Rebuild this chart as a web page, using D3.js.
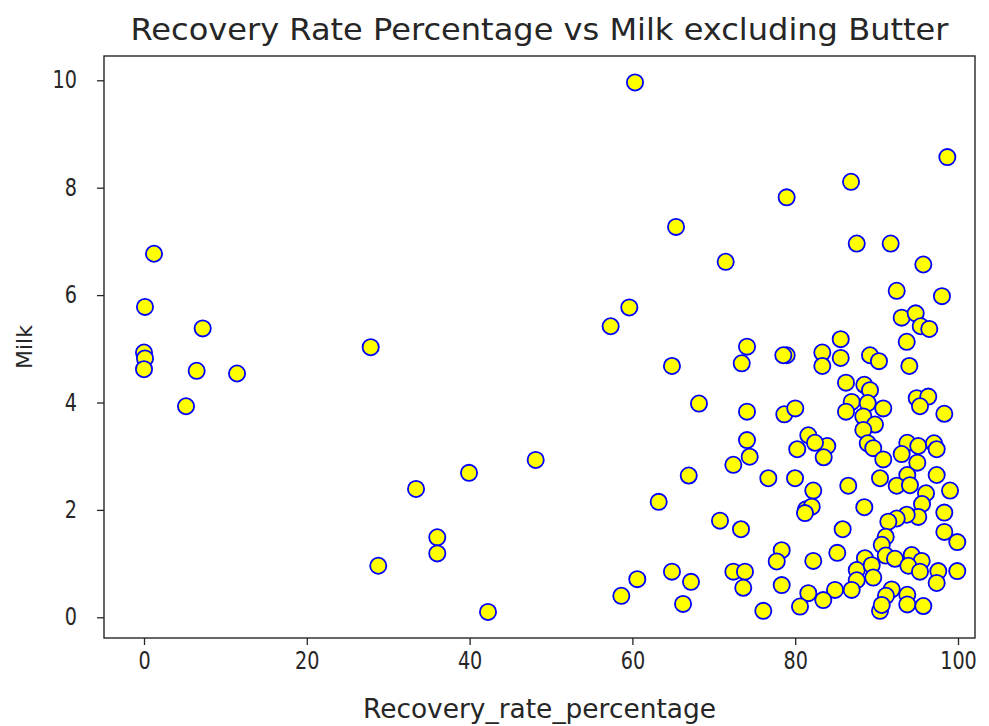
<!DOCTYPE html>
<html>
<head>
<meta charset="utf-8">
<script src="https://cdn.jsdelivr.net/npm/d3@7"></script>
<style>
  body { margin: 0; background: #fff; }
  text { font-family: "DejaVu Sans", sans-serif; fill: #262626; }
</style>
</head>
<body>
<div id="chart"></div>
<script>
// recovery rate (x) and milk (y), one entry per country
var recovery = [
  0.12, 1.23, 0.0, 0.12, 0.0, 7.21, 6.47, 11.43, 5.16, 27.85, 28.78, 33.42, 39.93, 48.12,
  36.03, 36.03, 42.26, 59.62, 57.33, 60.32, 65.36, 64.86, 63.23, 64.86, 60.60, 58.64, 66.22,
  78.95, 86.86, 98.69, 87.56, 91.73, 71.46, 95.74, 92.47, 98.03, 93.08, 94.80, 95.42, 96.47,
  93.70, 85.59, 85.59, 83.33, 83.33, 78.95, 78.54, 89.19, 90.29, 94.02, 74.08, 73.43,
  86.24, 88.49, 89.19, 68.18, 74.08, 78.66, 80.01, 86.94, 88.91, 86.24, 90.82, 88.37,
  94.93, 96.35, 95.33, 98.32, 89.80, 88.37, 88.91, 89.59, 90.82, 83.94, 83.50, 81.61,
  82.43, 80.25, 93.77, 95.12, 97.05, 97.38, 93.08, 95.00, 74.08, 74.41, 72.40, 66.92,
  76.70, 79.98, 90.42, 93.77, 97.38, 92.47, 94.10, 86.52, 96.07, 99.02, 82.22, 81.33,
  82.03, 88.49, 95.58, 95.12, 93.70, 92.47, 91.44, 98.32, 98.32, 99.91, 85.83, 91.12,
  90.63, 85.17, 88.57, 91.12, 92.26, 94.31, 95.54, 93.90, 95.33, 97.58, 99.91, 97.38,
  87.56, 89.40, 89.59, 87.56, 86.94, 84.89, 83.45, 91.85, 91.15, 90.42, 90.63, 93.77,
  93.77, 95.74, 70.76, 73.34, 81.20, 82.22, 78.34, 77.73, 78.34, 81.61, 80.59, 76.08,
  72.40, 73.83, 73.62, 67.20
];
var milk = [
  5.78, 6.77, 4.93, 4.82, 4.62, 5.38, 4.59, 4.54, 3.93, 5.03, 0.96, 2.39, 2.69, 2.93,
  1.49, 1.19, 0.10, 5.77, 5.42, 9.96, 7.27, 4.68, 2.15, 0.85, 0.71, 0.40, 0.25,
  7.82, 8.11, 8.57, 6.96, 6.96, 6.62, 6.57, 6.08, 5.98, 5.58, 5.66, 5.42, 5.37,
  5.13, 5.18, 4.83, 4.93, 4.68, 4.88, 4.88, 4.88, 4.77, 4.68, 5.04, 4.73,
  4.37, 4.33, 4.23, 3.98, 3.83, 3.78, 3.89, 4.01, 3.99, 3.83, 3.89, 3.74,
  4.08, 4.11, 3.93, 3.79, 3.59, 3.49, 3.24, 3.15, 2.94, 3.19, 2.98, 3.39,
  3.25, 3.13, 3.25, 3.19, 3.24, 3.13, 3.04, 2.88, 3.30, 2.99, 2.84, 2.64,
  2.59, 2.59, 2.59, 2.65, 2.65, 2.45, 2.46, 2.45, 2.31, 2.36, 2.36, 2.01,
  2.06, 2.05, 2.11, 1.87, 1.91, 1.84, 1.78, 1.95, 1.59, 1.40, 1.64, 1.50,
  1.35, 1.20, 1.10, 1.15, 1.09, 1.16, 1.05, 0.96, 0.85, 0.86, 0.86, 0.64,
  0.88, 0.97, 0.74, 0.69, 0.51, 0.51, 0.32, 0.52, 0.40, 0.12, 0.23, 0.42,
  0.24, 0.21, 1.80, 1.64, 1.94, 1.05, 1.25, 1.04, 0.60, 0.45, 0.20, 0.12,
  0.85, 0.85, 0.55, 0.66
];
var xTicks = [0, 20, 40, 60, 80, 100];
var yTicks = [0, 2, 4, 6, 8, 10];

var width = 989, height = 726;
var frame = {left: 104, right: 975, top: 56, bottom: 638};

var svg = d3.select("#chart").append("svg")
    .attr("width", width)
    .attr("height", height);

var x = d3.scaleLinear().domain([0, 100]).range([144, 958]);
var y = d3.scaleLinear().domain([0, 10]).range([617.3, 80.3]);

var points = recovery.map(function (d, i) { return [d, milk[i]]; });

svg.append("g")
    .selectAll("circle")
    .data(points)
    .enter().append("circle")
    .attr("cx", function (d) { return x(d[0]); })
    .attr("cy", function (d) { return y(d[1]); })
    .attr("r", 8.1)
    .style("fill", "yellow")
    .style("stroke", "blue")
    .style("stroke-width", 1.8);

// narrow the glyphs a bit, the source picture has tall thin text
function squeeze(sel, k) {
    sel.each(function () {
        var w = this.getComputedTextLength();
        d3.select(this).attr("textLength", w * k).attr("lengthAdjust", "spacingAndGlyphs");
    });
}

// axes
var xAxis = svg.append("g")
    .attr("transform", "translate(0," + frame.bottom + ")")
    .call(d3.axisBottom(x).tickValues(xTicks).tickSize(7).tickPadding(7));
var yAxis = svg.append("g")
    .attr("transform", "translate(" + frame.left + ",0)")
    .call(d3.axisLeft(y).tickValues(yTicks).tickSize(7).tickPadding(20));

[xAxis, yAxis].forEach(function (g) {
    g.select(".domain").remove();
    g.selectAll(".tick line").style("stroke", "#262626").style("stroke-width", 1.3);
    g.selectAll(".tick text").style("font-size", "24px").style("fill", "#262626")
        .style("font-family", "DejaVu Sans, sans-serif");
    squeeze(g.selectAll(".tick text"), 0.8);
});

svg.append("rect")
    .attr("x", frame.left)
    .attr("y", frame.top)
    .attr("width", frame.right - frame.left)
    .attr("height", frame.bottom - frame.top)
    .style("fill", "none")
    .style("stroke", "#262626")
    .style("stroke-width", 1.4);

// title & labels
svg.append("text")
    .attr("x", (frame.left + frame.right) / 2)
    .attr("y", 40)
    .attr("text-anchor", "middle")
    .attr("textLength", 818)
    .attr("lengthAdjust", "spacingAndGlyphs")
    .style("font-size", "31px")
    .text("Recovery Rate Percentage vs Milk excluding Butter");

svg.append("text")
    .attr("x", (frame.left + frame.right) / 2)
    .attr("y", 718)
    .attr("text-anchor", "middle")
    .attr("textLength", 353)
    .attr("lengthAdjust", "spacingAndGlyphs")
    .style("font-size", "26px")
    .text("Recovery_rate_percentage");

svg.append("text")
    .attr("transform", "translate(32," + (frame.top + frame.bottom) / 2 + ") rotate(-90)")
    .attr("text-anchor", "middle")
    .style("font-size", "22px")
    .text("Milk");
</script>
</body>
</html>
